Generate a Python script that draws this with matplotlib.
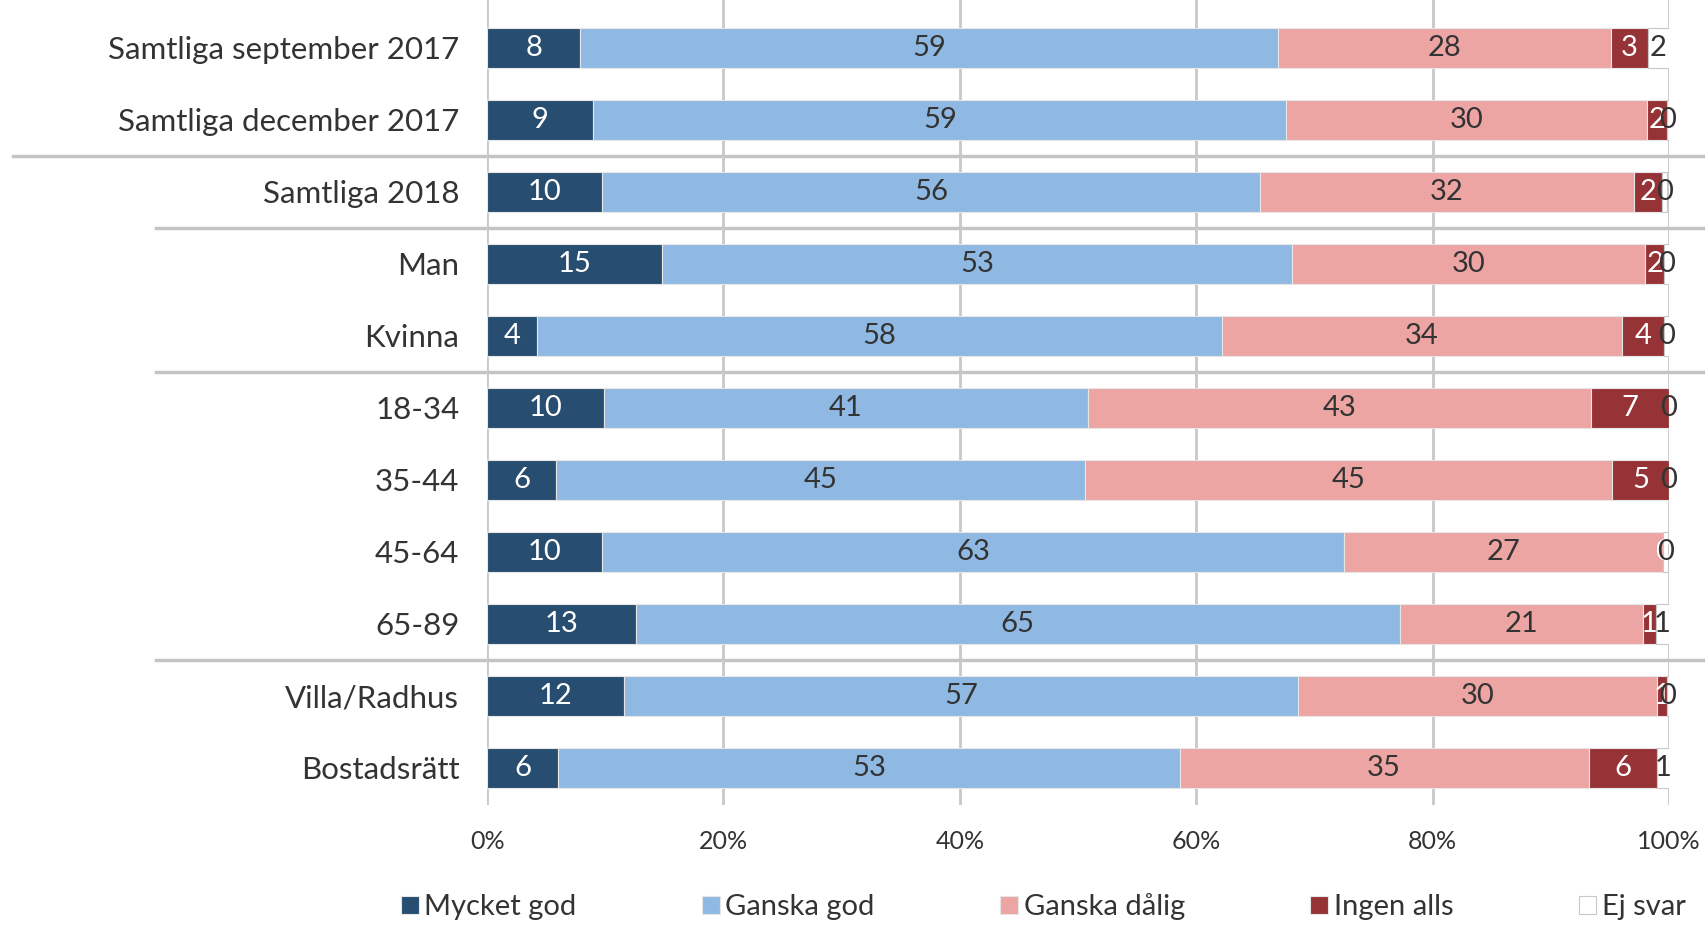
import matplotlib.pyplot as plt
import matplotlib.transforms as mtransforms
import numpy as np

plt.rcParams['font.family'] = ['Lato', 'DejaVu Sans']

categories = ['Samtliga september 2017', 'Samtliga december 2017', 'Samtliga 2018',
              'Man', 'Kvinna', '18-34', '35-44', '45-64', '65-89',
              'Villa/Radhus', 'Bostadsrätt']
series = ['Mycket god', 'Ganska god', 'Ganska dålig', 'Ingen alls', 'Ej svar']

mycket_god = [7.9, 9.0, 9.7, 14.8, 4.2, 9.9, 5.8, 9.7, 12.6, 11.6, 6.0]
ganska_god = [59.0, 58.6, 55.7, 53.3, 58.0, 40.9, 44.8, 62.8, 64.6, 57.0, 52.6]
ganska_dalig = [28.2, 30.5, 31.6, 29.9, 33.8, 42.6, 44.6, 27.0, 20.6, 30.4, 34.6]
ingen_alls = [3.1, 1.7, 2.4, 1.6, 3.6, 6.6, 4.8, 0.0, 1.1, 0.8, 5.8]
ej_svar = [1.8, 0.2, 0.4, 0.4, 0.4, 0.0, 0.0, 0.4, 1.1, 0.2, 1.0]

colors = ['#274d70', '#8fb9e3', '#eca5a3', '#963336', '#ffffff']
label_colors = ['white', '#333333', '#333333', 'white', '#333333']

fig = plt.figure(figsize=(17.05, 9.26), dpi=100)
ax = fig.add_axes([0.2857, 0.131, 0.6932, 0.869])

y = np.arange(len(categories))
left = np.zeros(len(categories))
for vals, name, col, lc in zip([mycket_god, ganska_god, ganska_dalig, ingen_alls, ej_svar],
                               series, colors, label_colors):
    vals = np.array(vals)
    ec = '#c8c8c8' if col == '#ffffff' else '#e6e6e6'
    ax.barh(y, vals, left=left, height=0.56, color=col, edgecolor=ec,
            linewidth=0.8, label=name, zorder=3)
    for yi, l, v in zip(y, left, vals):
        ax.text(l + v / 2, yi, '%d' % round(v), ha='center', va='center',
                fontsize=21, color=lc, zorder=4)
    left += vals

ax.set_xlim(0, 100)
ax.set_ylim(len(categories) - 0.49, -0.665)
ax.set_xticks(np.arange(0, 101, 20))
ax.set_xticklabels(['%d%%' % t for t in range(0, 101, 20)], fontsize=18, color='#333333')
ax.set_yticks(y)
ax.set_yticklabels(categories, fontsize=22.5, color='#333333')
ax.tick_params(length=0, pad=28)
ax.tick_params(axis='y', pad=20)
ax.tick_params(axis='x', pad=18)
ax.grid(axis='x', color='#c8c8c8', linewidth=2, zorder=0)
for s in ax.spines.values():
    s.set_visible(False)

# group separators
trans = mtransforms.blended_transform_factory(ax.transAxes, ax.transData)
for ysep, x0 in [(1.5, -0.401), (2.5, -0.2805), (4.5, -0.2805), (8.5, -0.2805)]:
    ax.plot([x0, 1.03], [ysep, ysep], color='#c4c4c4', linewidth=2.5,
            transform=trans, clip_on=False, zorder=1)

leg = fig.legend(loc='lower center', bbox_to_anchor=(0.612, -0.022), ncol=5,
                 frameon=False, fontsize=21, handlelength=0.6, handleheight=0.6,
                 handletextpad=0.2, columnspacing=4.3)
for t in leg.get_texts():
    t.set_color('#333333')

fig.savefig('out.png', dpi=100)
